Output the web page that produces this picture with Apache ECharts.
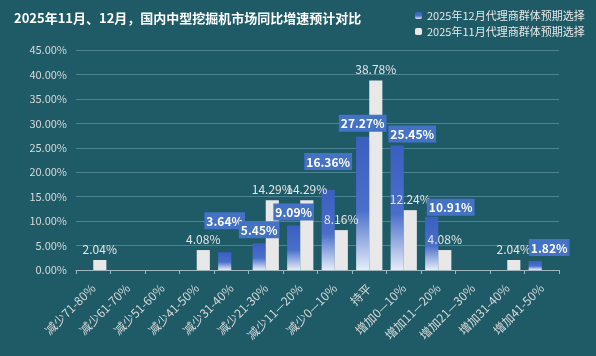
<!DOCTYPE html>
<html><head><meta charset="utf-8">
<script src="https://cdn.jsdelivr.net/npm/echarts@6/dist/echarts.min.js"></script>
<style>html,body{margin:0;padding:0;background:#1f5a67;}#c{width:596px;height:356px;}</style>
</head><body><div id="c"></div>
<script>
const categories = ['减少71-80%','减少61-70%','减少51-60%','减少41-50%','减少31-40%','减少21-30%','减少11—20%','减少0—10%','持平','增加0—10%','增加11—20%','增加21—30%','增加31-40%','增加41-50%'];
const dec2025 = [0,0,0,0,3.64,5.45,9.09,16.36,27.27,25.45,10.91,0,0,1.82];
const nov2025 = [2.04,0,0,4.08,0,14.29,14.29,8.16,38.78,12.24,4.08,0,2.04,0];
const seriesNames = ['2025年12月代理商群体预期选择','2025年11月代理商群体预期选择'];
const yTicks = {min:0, max:45, interval:5};

const FONT = '"Noto Sans CJK SC", "Noto Sans", sans-serif';
// manual label nudges (as placed in the original)
const labelShift = {4:[0,-18], 7:[0,-15], 9:[15,2], 10:[19,4], 13:[14,0]};
const chart = echarts.init(document.getElementById('c'));
const blueGrad = new echarts.graphic.LinearGradient(0,0,0,1,[
  {offset:0,color:'#3a5fbf'},{offset:0.55,color:'#4a6fcb'},{offset:1,color:'#e6ecf8'}]);
const fmt = p => p.value ? p.value.toFixed(2)+'%' : '';
const blueLabel = {show:true,position:'top',distance:5,color:'#ffffff',fontWeight:'bold',fontSize:12,
  backgroundColor:'#4472c4',padding:[3,2,2,2],fontFamily:FONT,formatter:fmt};
const whiteLabel = {show:true,position:'top',distance:5,color:'#e6e6e6',fontSize:12,fontFamily:FONT,formatter:fmt};
const xBase = {type:'category',data:categories};
chart.setOption({
  backgroundColor:'#1f5a67',
  textStyle:{fontFamily:FONT},
  title:{text:'2025年11月、12月，国内中型挖掘机市场同比增速预计对比',left:9,top:7,
    textStyle:{color:'#ffffff',fontSize:13,fontWeight:'bold',fontFamily:FONT}},
  legend:{orient:'vertical',left:410,top:5,itemWidth:7,itemHeight:7,itemGap:5,
    textStyle:{color:'#e8e8e8',fontSize:11,fontFamily:FONT},data:seriesNames},
  grid:{left:76,right:37,top:50,bottom:86,containLabel:false},
  xAxis:[
    Object.assign({},xBase,{
      axisLine:{lineStyle:{color:'#9fb8bf'}},
      axisTick:{show:true,length:4,lineStyle:{color:'#9fb8bf'}},
      axisLabel:{rotate:45,color:'#d9d9d9',fontSize:12,interval:0,margin:16,fontFamily:FONT}}),
    Object.assign({},xBase,{show:false,position:'bottom'})
  ],
  yAxis:{type:'value',min:yTicks.min,max:yTicks.max,interval:yTicks.interval,
    axisLine:{show:false},axisTick:{show:false},
    splitLine:{lineStyle:{color:'#4e8391',width:1}},
    axisLabel:{color:'#d9d9d9',fontSize:11,margin:9,fontFamily:FONT,
      formatter:v=>v.toFixed(2)+'%'}},
  series:[
    {name:seriesNames[0],type:'bar',barWidth:'38%',barGap:'0%',xAxisIndex:0,
     itemStyle:{color:blueGrad},data:dec2025},
    {name:seriesNames[1],type:'bar',barWidth:'38%',barGap:'0%',xAxisIndex:0,
     itemStyle:{color:'#e8e8e8'},data:nov2025},
    {name:'lab-dec',type:'bar',barWidth:'38%',barGap:'0%',xAxisIndex:1,z:10,silent:true,
     itemStyle:{color:'rgba(0,0,0,0)'},
     data:dec2025.map((v,i)=>({value:v,label:{show:v>0,offset:labelShift[i]||[0,0]}})),
     label:blueLabel},
    {name:'lab-nov',type:'bar',barWidth:'38%',barGap:'0%',xAxisIndex:1,z:9,silent:true,
     itemStyle:{color:'rgba(0,0,0,0)'},
     data:nov2025.map(v=>({value:v,label:{show:v>0}})),
     label:whiteLabel}
  ]
});
</script></body></html>
